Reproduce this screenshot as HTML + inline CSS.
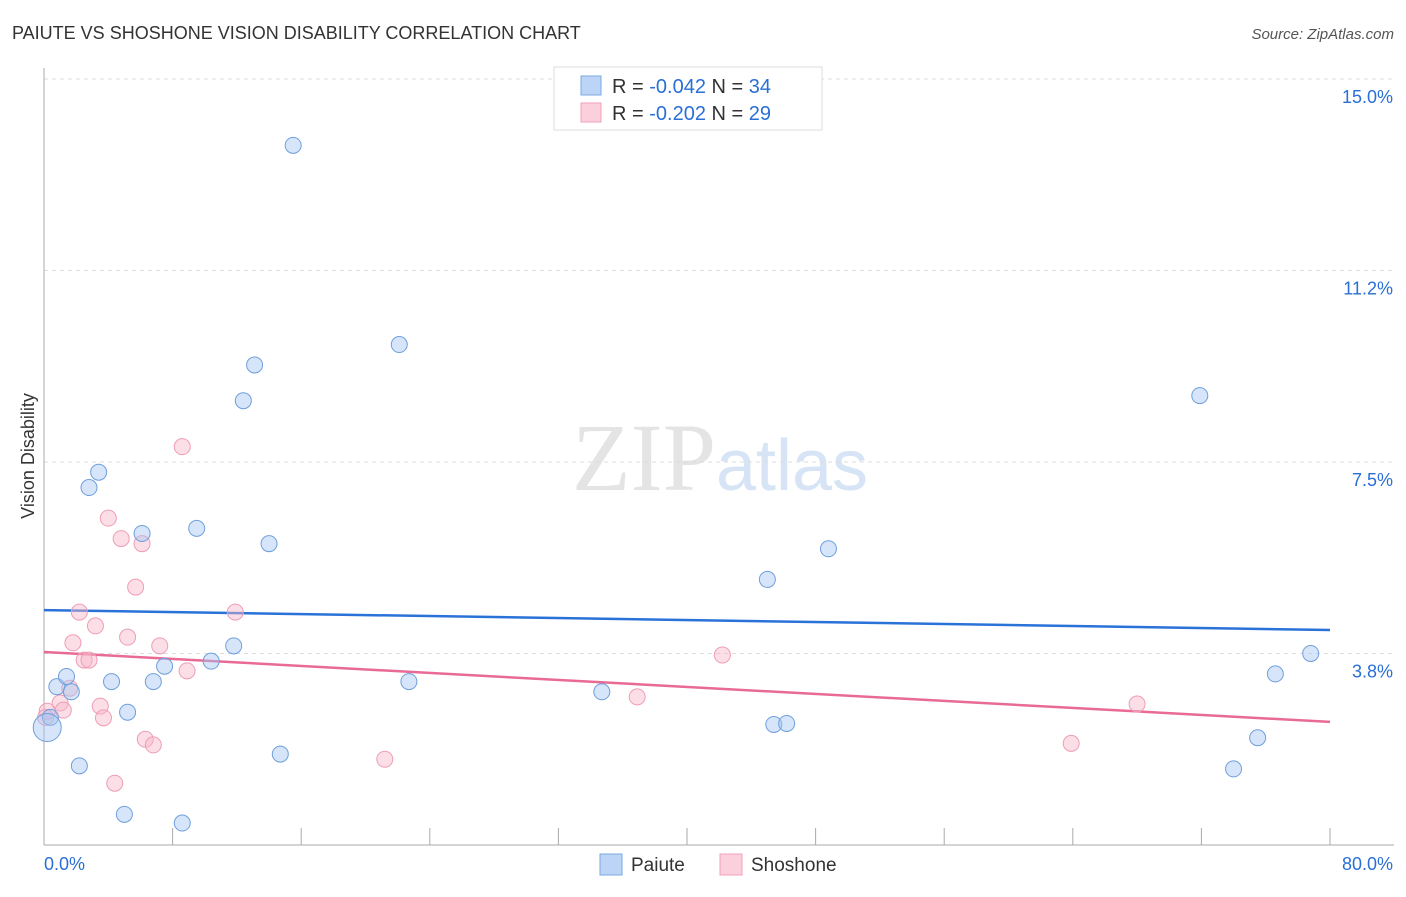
<!DOCTYPE html>
<html><head><meta charset="utf-8"><style>
body{margin:0;background:#fff;font-family:"Liberation Sans",sans-serif;}
svg text{font-family:"Liberation Sans",sans-serif;}
</style></head><body>
<svg id="chart" width="1406" height="892" viewBox="0 0 1406 892" xmlns="http://www.w3.org/2000/svg">
<text x="12" y="39" font-size="18" fill="#333">PAIUTE VS SHOSHONE VISION DISABILITY CORRELATION CHART</text>
<text x="1394" y="39" font-size="15" fill="#555" text-anchor="end" font-style="italic">Source: ZipAtlas.com</text>
<text x="720" y="490" font-size="96" text-anchor="middle"><tspan fill="#e4e4e4" font-family="Liberation Serif">ZIP</tspan><tspan fill="#d6e4f5" font-size="72">atlas</tspan></text>
<g id="grid"></g>
<g id="axes"></g>
<g id="trends"></g>
<g id="points"></g>
<text transform="translate(34,456) rotate(-90)" font-size="18" fill="#333" text-anchor="middle">Vision Disability</text>
<g>
<rect x="554" y="67" width="268" height="63" fill="#fff" stroke="#ddd"/>
<rect x="581" y="76" width="20" height="19" fill="#bcd4f5" stroke="#7aa8e0"/>
<text x="612" y="93" font-size="20" fill="#333">R = <tspan fill="#2a6fd6">-0.042</tspan>   N = <tspan fill="#2a6fd6">34</tspan></text>
<rect x="581" y="103" width="20" height="19" fill="#fbd0dc" stroke="#f0a0b8"/>
<text x="612" y="120" font-size="20" fill="#333">R = <tspan fill="#2a6fd6">-0.202</tspan>   N = <tspan fill="#2a6fd6">29</tspan></text>
</g>
<g>
<rect x="600" y="854" width="22" height="21" fill="#bcd4f5" stroke="#7aa8e0"/>
<text x="631" y="871" font-size="19" fill="#333">Paiute</text>
<rect x="720" y="854" width="22" height="21" fill="#fbd0dc" stroke="#f0a0b8"/>
<text x="751" y="871" font-size="19" fill="#333">Shoshone</text>
</g>
</svg>
<script>
const yTicks=[15.0,11.25,7.5,3.75];
const yTickLabels=["15.0%","11.2%","7.5%","3.8%"];
const xTickLabels=["0.0%","80.0%"];
const paiuteX=[15.5,22.1,13.1,12.4,71.9,3.4,2.8,9.5,6.1,14.0,48.8,45.0,11.8,10.4,7.5,6.8,4.2,0.8,1.4,1.7,22.7,34.7,76.6,78.8,5.2,0.4,45.4,46.2,75.5,2.2,14.7,74.0,5.0,8.6,0.2];
const paiuteY=[13.7,9.8,9.4,8.7,8.8,7.3,7.0,6.2,6.1,5.9,5.8,5.2,3.9,3.6,3.5,3.2,3.2,3.1,3.3,3.0,3.2,3.0,3.35,3.75,2.6,2.5,2.36,2.38,2.1,1.55,1.78,1.49,0.6,0.43,2.3];
const shoshoneX=[8.6,4.0,4.8,6.1,5.7,2.2,11.9,3.2,1.8,5.2,7.2,2.5,2.8,8.9,42.2,36.9,68.0,1.6,1.0,0.2,1.2,3.5,3.7,6.3,6.8,21.2,63.9,4.4,0.1];
const shoshoneY=[7.8,6.4,6.0,5.9,5.05,4.56,4.56,4.29,3.96,4.07,3.9,3.62,3.62,3.41,3.72,2.9,2.76,3.07,2.78,2.62,2.64,2.72,2.49,2.07,1.96,1.68,1.99,1.21,2.5];
const paiuteTrend=[4.60,4.21];
const shoshoneTrend=[3.78,2.41];
const xDomain=[0,80];
const NS="http://www.w3.org/2000/svg";
function sx(v){return 44+(v-xDomain[0])/(xDomain[1]-xDomain[0])*1286;}
function sy(v){return 845-v*51.07;}
function mk(tag,attrs,parent){const e=document.createElementNS(NS,tag);for(const k in attrs)e.setAttribute(k,attrs[k]);document.getElementById(parent).appendChild(e);return e;}
yTicks.forEach((t,i)=>{
 const g=mk('line',{x1:44,x2:1394,y1:sy(t),y2:sy(t),stroke:'#ddd','stroke-dasharray':'4 4'},'grid');
 
 
 const l=mk('text',{x:1393,y:sy(t)+24,'font-size':18,fill:'#2a6fd6','text-anchor':'end'},'grid');
 l.textContent=yTickLabels[i];
 
 
});
const ax=mk('line',{x1:44,x2:1394,y1:845,y2:845,stroke:'#aaa'},'axes');


const ay=mk('line',{x1:44,x2:44,y1:68,y2:845,stroke:'#aaa'},'axes');


for(let i=0;i<=10;i++){
 const v=xDomain[0]+i*(xDomain[1]-xDomain[0])/10;
 const t=mk('line',{x1:sx(v),x2:sx(v),y1:828,y2:845,stroke:'#aaa'},'axes');
 
 
}
const xl0=mk('text',{x:44,y:870,'font-size':18,fill:'#2a6fd6'},'axes');xl0.textContent=xTickLabels[0];


const xl1=mk('text',{x:1393,y:870,'font-size':18,fill:'#2a6fd6','text-anchor':'end'},'axes');xl1.textContent=xTickLabels[1];


function pts(xs,ys,fill,stroke,name){
 xs.forEach((x,i)=>{
  const r=(name==='paiute-point'&&i===xs.length-1)?14:8;
  const c=mk('circle',{cx:sx(x),cy:sy(ys[i]),r:r,fill:fill,stroke:stroke,'stroke-width':1},'points');
  
  
 });
}
pts(shoshoneX,shoshoneY,'rgba(248,182,202,0.45)','#ee9db5','shoshone-point');
pts(paiuteX,paiuteY,'rgba(164,198,242,0.45)','#6f9fdc','paiute-point');
const bt=mk('line',{x1:sx(0),x2:sx(80),y1:sy(paiuteTrend[0]),y2:sy(paiuteTrend[1]),stroke:'#2a72d8','stroke-width':2.5},'trends');


const pt=mk('line',{x1:sx(0),x2:sx(80),y1:sy(shoshoneTrend[0]),y2:sy(shoshoneTrend[1]),stroke:'#e86a95','stroke-width':2.5},'trends');


</script>
</body></html>
